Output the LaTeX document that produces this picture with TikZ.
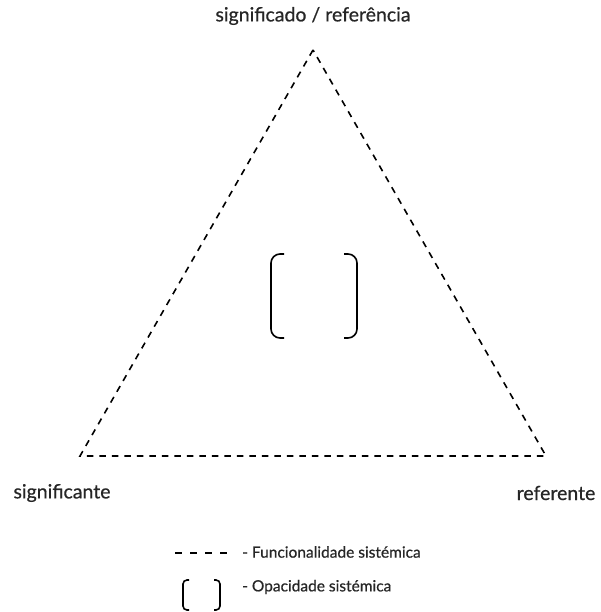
\documentclass[tikz,border=0pt]{standalone}
\usepackage{fontspec}
\setmainfont{Lato}
\begin{document}
\begin{tikzpicture}[x=1pt,y=-1pt,
  dline/.style={line width=1.6pt, dash pattern=on 6.5pt off 6pt},
  brk/.style={line width=1.6pt, rounded corners=9pt},
  lbl/.style={inner sep=0pt, font=\fontsize{19.5}{22}\selectfont\addfontfeature{FakeBold=0.6}, text=black!85},
  leg/.style={inner sep=0pt, anchor=west, font=\fontsize{15.5}{18}\selectfont\addfontfeature{FakeBold=0.6}, text=black!85}]
\useasboundingbox (0,0) rectangle (601,612);
\coordinate (T) at (313,50);
\coordinate (L) at (80,456);
\coordinate (R) at (546,456);
\draw[dline] (T) -- (L) -- (R) -- cycle;
\node[lbl] (top) at (313,16) {significado / referência};
\node[lbl] (sig) at (62,493) {significante};
\node[lbl] (ref) at (556,493) {referente};
% central brackets
\draw[brk] (284,254) -- (271,254) -- (271,338) -- (284,338);
\draw[brk] (344,254) -- (357,254) -- (357,338) -- (344,338);
% legend
\coordinate (d1) at (175,553);
\coordinate (d2) at (228,553);
\draw[line width=1.6pt, dash pattern=on 7pt off 8pt] (d1) -- (d2);
\node[leg] (l1) at (242,552) {- Funcionalidade sistémica};
\draw[line width=1.6pt, rounded corners=4pt] (189,580) -- (183,580) -- (183,610) -- (189,610);
\draw[line width=1.6pt, rounded corners=4pt] (214,580) -- (220,580) -- (220,610) -- (214,610);
\node[leg] (l2) at (242,587) {- Opacidade sistémica};
\end{tikzpicture}
\end{document}
